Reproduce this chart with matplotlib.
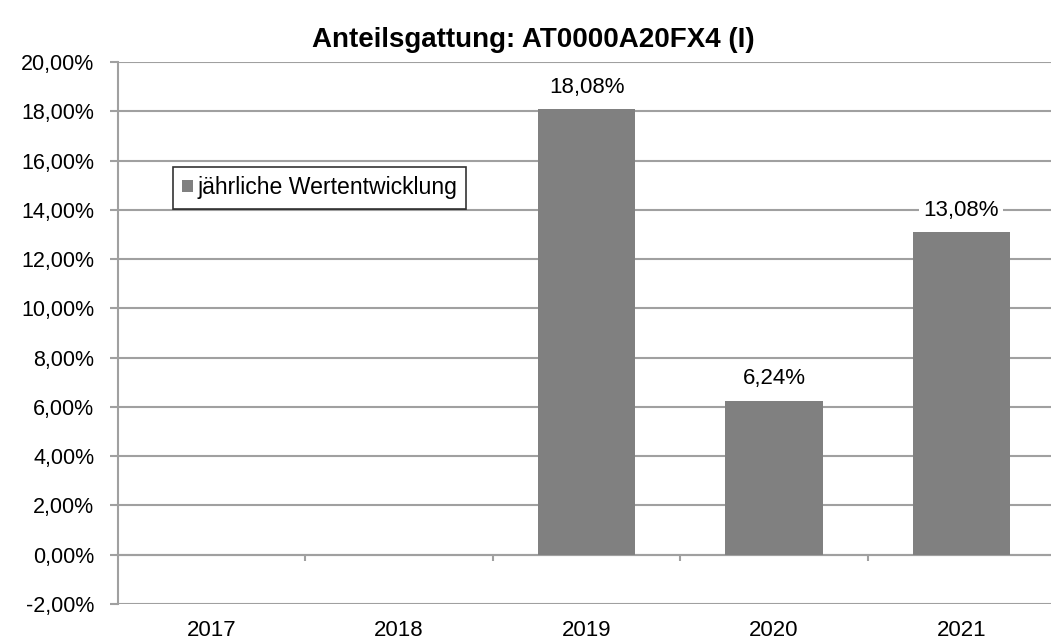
import numpy as np
import matplotlib.pyplot as plt
from matplotlib.ticker import FuncFormatter, FixedLocator

years = ['2017', '2018', '2019', '2020', '2021']
values = [np.nan, np.nan, 18.08, 6.24, 13.08]
yticks = np.arange(-2, 21, 2)

plt.rcParams['font.family'] = ['Liberation Sans', 'DejaVu Sans']

fig = plt.figure(figsize=(10.51, 6.41), dpi=100)
ax = fig.add_axes([0.1123, 0.0577, 0.8915, 0.8456])

x = np.arange(len(years))
ax.bar(x, values, width=0.52, color='#808080', label='jährliche Wertentwicklung', zorder=3)

for xi, v in zip(x, values):
    if np.isnan(v):
        continue
    ax.annotate(f'{v:.2f}%'.replace('.', ','), (xi, v), xytext=(0, 16), textcoords='offset points',
                ha='center', va='center', fontsize=16,
                bbox=dict(facecolor='white', edgecolor='none', pad=3), zorder=4)

ax.set_xlim(-0.5, len(years) - 0.5)
ax.set_ylim(-2, 20)
ax.set_yticks(yticks)
ax.yaxis.set_major_formatter(FuncFormatter(lambda v, p: f'{v:.2f}%'.replace('.', ',')))
ax.yaxis.grid(True, color='#a0a0a0', linewidth=1.5, zorder=0)
ax.set_axisbelow(True)

# x-axis crosses at 0, category labels sit below the plot
ax.spines['bottom'].set_position(('data', 0))
ax.spines['bottom'].set_color('#a0a0a0')
ax.spines['bottom'].set_linewidth(1.5)
ax.spines['left'].set_color('#a0a0a0')
ax.spines['left'].set_linewidth(1.5)
ax.spines['top'].set_visible(False)
ax.spines['right'].set_visible(False)

ax.set_xticks(x)
ax.set_xticklabels(years)
ax.xaxis.set_minor_locator(FixedLocator(x[:-1] + 0.5))
ax.tick_params(axis='x', which='major', length=0, pad=47, labelsize=16)
ax.tick_params(axis='x', which='minor', length=4, width=1.5, color='#a0a0a0', direction='out')
ax.tick_params(axis='y', length=6, width=1.5, color='#a0a0a0', labelsize=15.5, pad=11)

ax.set_title('Anteilsgattung: AT0000A20FX4 (I)', fontsize=20, fontweight='bold', pad=11, x=0.443)

leg = ax.legend(loc='upper left', bbox_to_anchor=(0.0587, 0.806), fontsize=16.6, frameon=True,
                fancybox=False, handlelength=0.45, handleheight=0.45, handletextpad=0.2,
                borderpad=0.4, borderaxespad=0)
leg.get_frame().set_edgecolor('black')
leg.get_frame().set_linewidth(1.2)

plt.savefig('out.png', dpi=100)
